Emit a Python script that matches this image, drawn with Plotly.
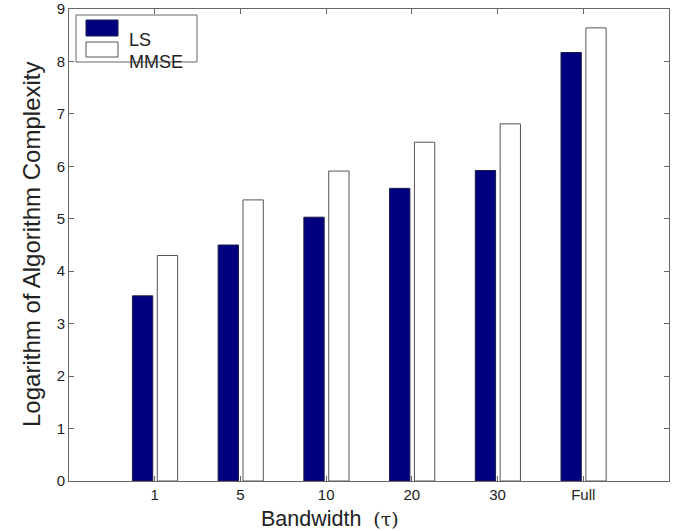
import plotly.graph_objects as go

categories = ["1", "5", "10", "20", "30", "Full"]
ls_values = [3.53, 4.50, 5.03, 5.58, 5.92, 8.17]
mmse_values = [4.30, 5.36, 5.91, 6.46, 6.81, 8.64]
y_ticks = [0, 1, 2, 3, 4, 5, 6, 7, 8, 9]

xpos = list(range(1, len(categories) + 1))

W, H = 686, 531
L, T, R, B = 69, 9, 17, 50
PW, PH = W - L - R, H - T - B  # 600 x 472


def px(xw):  # window x -> paper x
    return (xw - L) / PW


def py(yw):  # window y -> paper y
    return (H - B - yw) / PH


BAR_W = 0.237
fig = go.Figure()
fig.add_trace(go.Bar(x=xpos, y=ls_values, name="LS", width=BAR_W, offset=-0.26,
                     marker=dict(color="#00007F", line=dict(color="#1a1a4a", width=1)),
                     showlegend=False))
fig.add_trace(go.Bar(x=xpos, y=mmse_values, name="MMSE", width=BAR_W, offset=0.03,
                     marker=dict(color="white", line=dict(color="#555555", width=1)),
                     showlegend=False))

axis_common = dict(showline=True, linecolor="#666666", linewidth=1, mirror="allticks",
                   ticks="inside", ticklen=5, tickcolor="#666666", showgrid=False,
                   zeroline=False, automargin=False,
                   tickfont=dict(family="Liberation Sans, Arial", size=15, color="#222"))

fig.update_layout(
    width=W, height=H,
    margin=dict(l=L, r=R, t=T, b=B, autoexpand=False),
    paper_bgcolor="white", plot_bgcolor="white",
    barmode="overlay",
    xaxis=dict(range=[0, 7], tickvals=xpos, ticktext=categories, **axis_common),
    yaxis=dict(range=[0, 9], tickvals=y_ticks, **axis_common),
    font=dict(family="Liberation Sans, Arial"),
)

# axis titles
fig.add_annotation(xref="paper", yref="paper", x=px(330), y=py(519), yanchor="middle",
                   text="Bandwidth  <span style='font-family:DejaVu Serif;font-size:19px'>(τ)</span>",
                   showarrow=False, font=dict(family="Liberation Sans, Arial", size=21.5, color="#222"))
fig.add_annotation(xref="paper", yref="paper", x=px(31), y=py(245), textangle=-90,
                   xanchor="center", yanchor="middle",
                   text="Logarithm of Algorithm Complexity",
                   showarrow=False, font=dict(family="Liberation Sans, Arial", size=24, color="#222"))

# custom legend box
fig.add_shape(type="rect", xref="paper", yref="paper", x0=px(76), x1=px(197),
              y0=py(62), y1=py(15), line=dict(color="#666666", width=1), fillcolor="white")
fig.add_shape(type="rect", xref="paper", yref="paper", x0=px(86), x1=px(118),
              y0=py(36), y1=py(20), line=dict(color="#1a1a4a", width=1), fillcolor="#00007F")
fig.add_shape(type="rect", xref="paper", yref="paper", x0=px(86), x1=px(118),
              y0=py(57), y1=py(42), line=dict(color="#555555", width=1), fillcolor="white")
fig.add_annotation(xref="paper", yref="paper", x=px(127), y=py(28), xanchor="left",
                   text="LS", showarrow=False, font=dict(size=18, color="#222"))
fig.add_annotation(xref="paper", yref="paper", x=px(127), y=py(50), xanchor="left",
                   text="MMSE", showarrow=False, font=dict(size=18, color="#222"))

fig.write_html("out.html", config={"displayModeBar": False},
               post_script="document.body.style.margin='0';document.body.style.overflow='hidden';")
